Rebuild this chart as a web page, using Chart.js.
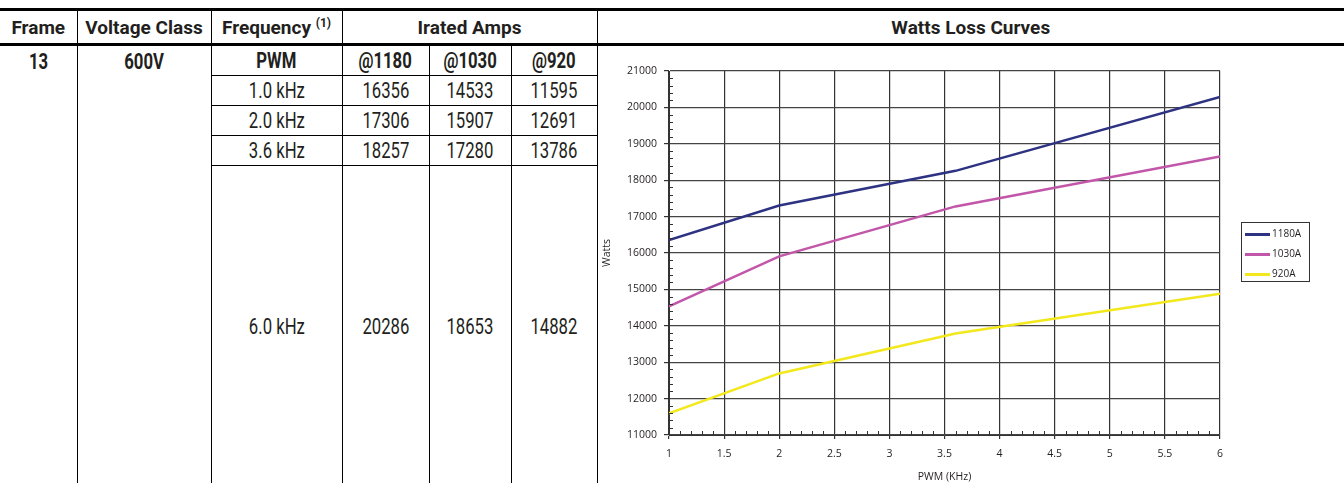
<!DOCTYPE html>
<html>
<head>
<meta charset="utf-8">
<script src="https://cdn.jsdelivr.net/npm/chart.js@4"></script>
<style>
  html, body { margin: 0; padding: 0; background: #fff; overflow: hidden; }
  body { width: 1344px; height: 483px; position: relative; }
  table.spec {
    position: absolute; left: 0; top: 8px;
    border-collapse: collapse; table-layout: fixed;
    font-family: "Roboto", sans-serif;
    color: #231f20;
  }
  table.spec td, table.spec th {
    border: 1px solid #000; padding: 0; text-align: center;
    font-size: 22px; line-height: 1; overflow: hidden; white-space: nowrap;
  }
  table.spec th { font-weight: bold; height: 32px; font-size: 19px; }
  table.spec tr.head th { border-top: 3px solid #000; border-bottom: 3px solid #000; }
  table.spec tr.head th:first-child, table.spec td.first { border-left: none; }
  table.spec th.last, table.spec td.last { border-right: none; border-bottom: none; }
  table.spec td { height: 29px; }
  table.spec td.b { font-weight: bold; vertical-align: top; padding-top: 5px; }
  table.spec td.tall { height: 322px; border-bottom: none; }
  .sq { display: inline-block; transform: scaleX(0.76); }
  sup { font-size: 12px; vertical-align: 7px; }
  #chartBox { position: absolute; left: 597px; top: 47px; width: 747px; height: 436px; }
  #legend {
    position: absolute; left: 1241px; top: 222px; width: 67px; height: 58px;
    border: 1px solid #333; box-sizing: content-box;
    font-family: "Open Sans", sans-serif; font-size: 10px; color: #231f20;
  }
  #legend .item { position: absolute; left: 3px; height: 12px; line-height: 12px; }
  #legend .swatch { display: inline-block; width: 25px; height: 3px; vertical-align: middle; margin-right: 2px; }
</style>
</head>
<body>
<table class="spec">
  <colgroup>
    <col style="width:77px"><col style="width:134px"><col style="width:131px">
    <col style="width:87px"><col style="width:82px"><col style="width:86px"><col style="width:747px">
  </colgroup>
  <tr class="head">
    <th>Frame</th><th>Voltage Class</th><th>Frequency <sup>(1)</sup></th>
    <th colspan="3">Irated Amps</th><th class="last">Watts Loss Curves</th>
  </tr>
  <tr>
    <td class="b first" rowspan="5" style="border-bottom:none"><span class="sq">13</span></td>
    <td class="b" rowspan="5" style="border-bottom:none"><span class="sq">600V</span></td>
    <td style="font-weight:bold"><span class="sq">PWM</span></td>
    <td style="font-weight:bold"><span class="sq">@1180</span></td>
    <td style="font-weight:bold"><span class="sq">@1030</span></td>
    <td style="font-weight:bold"><span class="sq">@920</span></td>
    <td class="last" rowspan="5"></td>
  </tr>
  <tr id="r1"></tr>
  <tr id="r2"></tr>
  <tr id="r3"></tr>
  <tr id="r4"></tr>
</table>
<div id="chartBox"><canvas id="chart"></canvas></div>
<div id="legend"></div>
<script>
// table rows
const freqLabels = ['1.0 kHz', '2.0 kHz', '3.6 kHz', '6.0 kHz'];
// chart x values (PWM, kHz)
const pwmKHz = [1, 2, 3.6, 6];
// watts loss per current rating
const watts1180 = [16356, 17306, 18257, 20286];
const watts1030 = [14533, 15907, 17280, 18653];
const watts920 = [11595, 12691, 13786, 14882];
const seriesLabels = ['1180A', '1030A', '920A'];
const seriesColors = ['#2e3282', '#c256a8', '#f2e81c'];

const seriesValues = [watts1180, watts1030, watts920];

// fill the table body
freqLabels.forEach((f, i) => {
  const tr = document.getElementById('r' + (i + 1));
  const cls = i === 3 ? ' class="tall"' : '';
  tr.innerHTML = `<td${cls}><span class="sq">${f}</span></td>` +
    seriesValues.map(v => `<td${cls}><span class="sq">${v[i]}</span></td>`).join('');
});

// legend
const legend = document.getElementById('legend');
seriesLabels.forEach((lab, i) => {
  const d = document.createElement('div');
  d.className = 'item';
  d.style.top = (4 + i * 20) + 'px';
  d.innerHTML = `<span class="swatch" style="background:${seriesColors[i]}"></span>${lab}`;
  legend.appendChild(d);
});

const tickFont = { family: 'Open Sans', size: 10.5 };

// small ticks between the labelled ones
const minorTicks = {
  id: 'minorTicks',
  afterDraw(chart) {
    const { ctx, chartArea: a, scales: { x, y } } = chart;
    ctx.save();
    ctx.strokeStyle = '#333';
    ctx.lineWidth = 1;
    ctx.beginPath();
    for (let v = 11200; v < 21000; v += 200) {
      if (v % 1000 === 0) continue;
      const py = Math.round(y.getPixelForValue(v)) + 0.5;
      ctx.moveTo(a.left, py);
      ctx.lineTo(a.left + 4, py);
    }
    for (let k = 11; k < 60; k++) {
      if (k % 5 === 0) continue;
      const px = Math.round(x.getPixelForValue(k / 10)) + 0.5;
      ctx.moveTo(px, a.bottom);
      ctx.lineTo(px, a.bottom - 4);
    }
    ctx.stroke();
    ctx.restore();
  }
};

new Chart(document.getElementById('chart'), {
  type: 'line',
  data: {
    datasets: seriesLabels.map((lab, i) => ({
      label: lab,
      data: pwmKHz.map((x, j) => ({ x, y: seriesValues[i][j] })),
      borderColor: seriesColors[i],
      backgroundColor: seriesColors[i],
      borderWidth: 2.5,
      pointRadius: 0,
      tension: 0,
    })),
  },
  options: {
    responsive: true,
    maintainAspectRatio: false,
    animation: false,
    layout: { padding: { top: 24, right: 124, left: 0, bottom: 0 } },
    plugins: { legend: { display: false }, tooltip: { enabled: false } },
    scales: {
      x: {
        type: 'linear', min: 1, max: 6,
        ticks: { stepSize: 0.5, font: tickFont, color: '#231f20', padding: 9, maxRotation: 0,
                 callback: v => String(v) },
        grid: { color: '#333', lineWidth: 1.2, tickLength: 4, tickColor: '#333' },
        border: { color: '#333' },
        title: { display: true, text: 'PWM (KHz)', font: tickFont, color: '#231f20', padding: { top: 6, bottom: 0 } },
        afterFit: s => { s.height = 48; },
      },
      y: {
        min: 11000, max: 21000,
        ticks: { stepSize: 1000, font: tickFont, color: '#231f20', padding: 7,
                 callback: v => String(v) },
        grid: { color: '#444', lineWidth: 1.2, tickLength: 5, tickColor: '#333' },
        border: { color: '#333' },
        title: { display: true, text: 'Watts', font: tickFont, color: '#231f20' },
        afterFit: s => { s.width = 72; },
      },
    },
  },
  plugins: [minorTicks],
});
</script>
</body>
</html>
